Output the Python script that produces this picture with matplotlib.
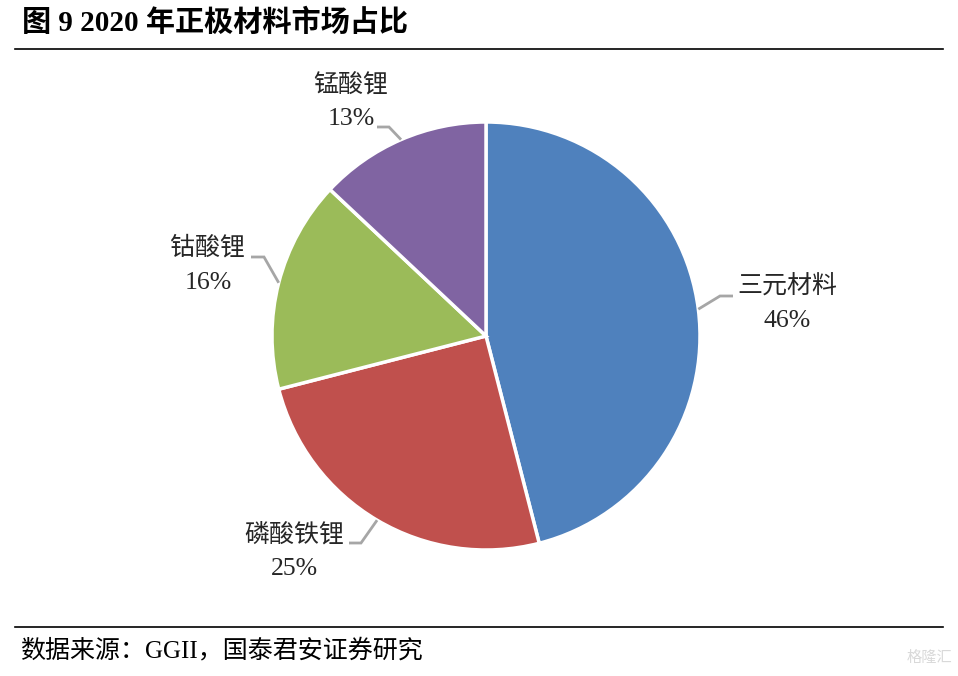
import numpy as np
import matplotlib
matplotlib.use("Agg")
import matplotlib.pyplot as plt

plt.rcParams['font.family'] = ['Liberation Serif', 'Noto Sans CJK SC', 'DejaVu Sans']

# data
labels = ['三元材料', '磷酸铁锂', '钴酸锂', '锰酸锂']
shares = [46, 25, 16, 13]
colors = ['#4F81BD', '#C0504D', '#9BBB59', '#8064A2']

title = '图 9 2020 年正极材料市场占比'
source = '数据来源：GGII，国泰君安证券研究'

W, H = 958, 676
# label placement (pixels, from top-left): name centre, percent centre, leader elbow, leader end
name_pos = [(787, 287), (294, 535), (208, 248), (351, 86)]
pct_pos = [(787, 321), (294, 569), (208, 283), (351, 119)]
elbows = [(720, 296), (361, 543), (264, 257), (389, 127)]
ends = [(733, 296), (349, 543), (251, 257), (377, 127)]


def py(y):
    return H - y


fig = plt.figure(figsize=(W / 100, H / 100), dpi=100)
ax = fig.add_axes([0, 0, 1, 1])

cx, cy, r = 486, py(336), 214
wedges, _ = ax.pie(shares, colors=colors, startangle=90, counterclock=False,
                   center=(cx, cy), radius=r,
                   wedgeprops=dict(edgecolor='white', linewidth=2.5))

ax.set_xlim(0, W)
ax.set_ylim(0, H)
ax.set_aspect('equal')
ax.axis('off')

for i, w in enumerate(wedges):
    mid = np.deg2rad((w.theta1 + w.theta2) / 2)
    sx, sy = cx + r * np.cos(mid), cy + r * np.sin(mid)
    (ex, ey), (nx, ny) = elbows[i], ends[i]
    ax.plot([sx, ex, nx], [sy, py(ey), py(ny)], color='#A6A6A6', lw=2,
            solid_capstyle='butt', solid_joinstyle='miter')
    ax.text(name_pos[i][0], py(name_pos[i][1]), labels[i], ha='center',
            va='center', fontsize=18, color='#262626')
    ax.text(pct_pos[i][0], py(pct_pos[i][1]), f'{shares[i]}%', ha='center',
            va='center', fontsize=18.5, color='#262626')

# title, rules and source
fig.text(22 / W, 1 - 23 / H, title, fontsize=21, fontweight='bold',
         ha='left', va='center', color='black')
ax.plot([15, 943], [py(49), py(49)], color='black', lw=1.2)
ax.plot([15, 943], [py(627), py(627)], color='black', lw=1.2)
fig.text(20 / W, 1 - 651 / H, source, fontsize=18, ha='left', va='center',
         color='black')
fig.text(952 / W, 1 - 658 / H, '格隆汇', fontsize=11, ha='right', va='center',
         color='#D9D9D9')

fig.savefig('out.png', dpi=100)
